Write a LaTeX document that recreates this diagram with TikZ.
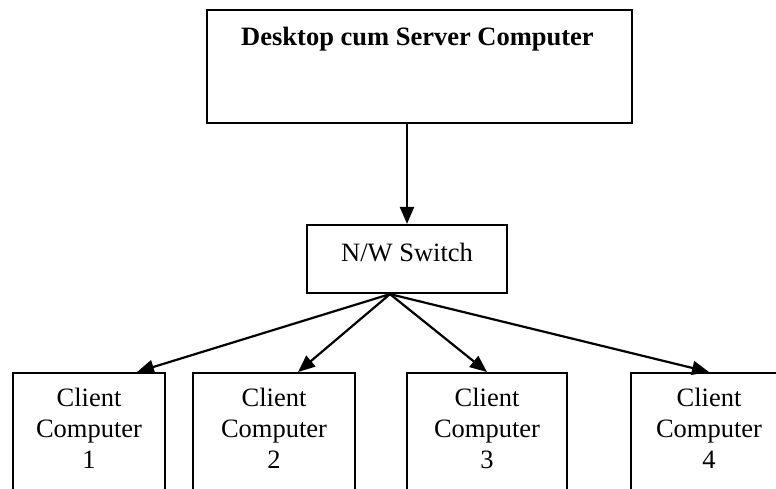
\documentclass[tikz,border=0pt]{standalone}
\usepackage{fontspec}
\setmainfont{Liberation Serif}
\usetikzlibrary{arrows.meta, calc}

\tikzset{
  box/.style={draw, line width=2.2pt, inner sep=0pt},
  link/.style={line width=2.2pt, -{Triangle[length=17pt,width=14pt]}},
  txt/.style={font=\fontsize{26.5}{31}\selectfont, align=center, anchor=base, inner sep=0pt}
}

\begin{document}
\begin{tikzpicture}[x=1pt, y=-1pt]
  \useasboundingbox (0,0) rectangle (776,488);
  \clip (0,0) rectangle (776,488);

  \node[box, minimum width=425pt, minimum height=113pt] (server) at (419.5,66.5) {};
  \node[txt, font=\fontsize{26.5}{31}\selectfont\bfseries] (servertext) at (417.5,45) {Desktop cum Server Computer};

  \node[box, minimum width=200pt, minimum height=68pt] (switch) at (407,259) {};
  \node[txt] (switchtext) at (407,261) {N/W Switch};

  \draw[link] (switch.north |- server.south) -- (switch.north);% server to switch

  \coordinate (hub) at ($(switch.south)+(-17,0)$);
  \foreach \i/\cx/\w/\dx in {1/89/152/48, 2/274/162/24, 3/487/160/0, 4/709/156/0}{
    \node[box, minimum width=\w pt, minimum height=140pt, anchor=north] (client\i) at (\cx,372) {};
    \node[txt] (clienttext\i) at (\cx,468) {Client\\Computer\\\i};% last line on base
    \draw[link] (hub) -- ([xshift=\dx pt]client\i.north);% switch to client
  }
\end{tikzpicture}
\end{document}
